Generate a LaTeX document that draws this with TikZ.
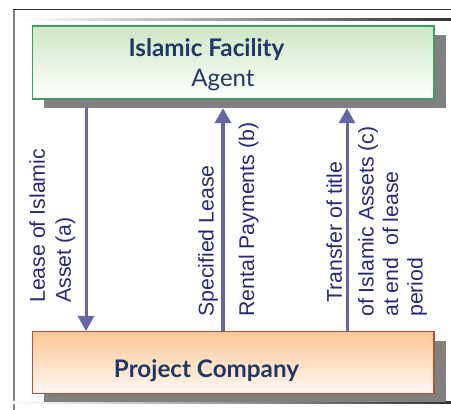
\documentclass[tikz,border=0pt]{standalone}
\usepackage{fontspec}
\setmainfont{Liberation Sans}
\newfontfamily\headfont{Lato}
\usetikzlibrary{arrows.meta}

\definecolor{shadowgray}{RGB}{128,128,128}
\definecolor{framedark}{RGB}{50,50,50}
\definecolor{framegray}{RGB}{130,130,130}
\definecolor{greentop}{RGB}{205,231,197}
\definecolor{greenline}{RGB}{60,158,100}
\definecolor{orangetop}{RGB}{252,199,150}
\definecolor{orangebot}{RGB}{255,248,243}
\definecolor{orangeline}{RGB}{178,82,55}
\definecolor{headtext}{RGB}{31,56,100}
\definecolor{labeltext}{RGB}{40,40,120}
\definecolor{flowline}{RGB}{102,102,162}

\tikzset{
  partybox/.style={inner sep=0pt, line width=1.4pt, minimum width=401.5pt},
  shadowbox/.style={fill=shadowgray, inner sep=0pt, minimum width=402pt},
  headlabel/.style={anchor=base, text=headtext, inner sep=0pt, font=\headfont\fontsize{24}{26}\selectfont},
  headtitle/.style={headlabel, font=\headfont\bfseries\fontsize{24.2}{26}\selectfont},
  flowlabel/.style={rotate=90, anchor=base west, inner sep=0pt, text=labeltext, font=\fontsize{21.3}{24}\selectfont},
  flow/.style={draw=flowline, line width=3pt, -{Triangle[width=16pt,length=15pt]}}
}

\begin{document}
\begin{tikzpicture}[x=1pt,y=1pt]
\useasboundingbox (0,0) rectangle (451,410);

% page frame
\draw[framegray, line width=2pt] (14,400.5) -- (14,0);
\draw[framedark, line width=1.5pt] (13,400.5) -- (451,400.5);
\shade[left color=white, right color=framedark] (22,389) rectangle (451,391);
\shade[left color=white, right color=framedark] (13,6.5) rectangle (451,8.5);

% drop shadows
\node[shadowbox, minimum height=73pt] (agentshadow) at (245,338.5) {};
\node[shadowbox, minimum height=60.7pt] (companyshadow) at (245,38.7) {};

% parties
\node[partybox, minimum height=73pt, draw=greenline, top color=greentop, bottom color=white] (agent) at (233.4,347.5) {};
\node[partybox, minimum height=61.6pt, draw=orangeline, top color=orangetop, bottom color=orangebot] (company) at (233.4,47.5) {};

\node[headtitle] (agenttitle) at (206.5,353) {Islamic Facility};
\node[headlabel] (agentsub) at (223,323) {Agent};
\node[headtitle] (companytitle) at (206.5,32) {Project Company};

% flows between the parties
\coordinate (xa) at (86,0);
\coordinate (xb) at (223,0);
\coordinate (xc) at (347,0);
\draw[flow] (agentshadow.south -| xa) -- (company.north -| xa);
\draw[flow, line width=4pt] (company.north -| xb) -- (agentshadow.south -| xb);
\draw[flow] (company.north -| xc) -- (agentshadow.south -| xc);

% flow labels
\node[flowlabel] (la1) at (45,107) {Lease of Islamic};
\node[flowlabel] (la2) at (71,107) {Asset (a)};
\node[flowlabel] (lb1) at (213.5,93) {Specified Lease};
\node[flowlabel] (lb2) at (254,93) {Rental Payments (b)};
\node[flowlabel] (lc1) at (342,107) {Transfer of title};
\node[flowlabel] (lc2) at (373.5,93) {of Islamic Assets (c)};
\node[flowlabel] (lc3) at (398,93) {at end\ \ of lease};
\node[flowlabel] (lc4) at (422.5,93) {period};
\end{tikzpicture}
\end{document}
